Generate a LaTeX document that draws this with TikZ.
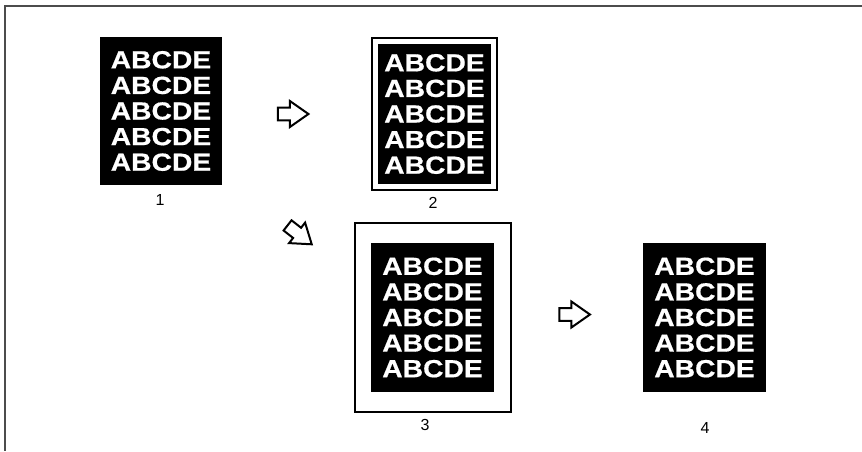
\documentclass[tikz,border=0pt]{standalone}
\usepackage{fontspec}
\setmainfont{Liberation Sans}
\newfontfamily\boxfont{Liberation Sans}[FakeStretch=1.14, FakeBold=0.6]
\usetikzlibrary{shapes.arrows, positioning}

\begin{document}
\begin{tikzpicture}[x=0.75pt, y=-0.75pt,
  page/.style={rectangle, fill=black, draw=none, text=white, align=center, inner sep=0pt,
               font=\boxfont\bfseries\fontsize{18.6}{19.2}\selectfont},
  sheet/.style={rectangle, draw=black, line width=0.8pt, fill=white, inner sep=0pt},
  caption/.style={font=\fontsize{12}{14}\selectfont, inner sep=0pt},
  flow/.style={single arrow, draw=black, line width=1.5pt, fill=white, inner xsep=0pt,
               inner ysep=4.1pt, minimum height=23pt, single arrow head extend=4.9pt,
               single arrow tip angle=70},
  frame/.style={draw=black!70, line width=1.2pt},
]
  \useasboundingbox (0,0) rectangle (862,451);

  % Rahmen
  \draw[frame] (862,6) -- (5,6) -- (5,451);

  % Vorlage 1
  \node[page, minimum width=91.5pt, minimum height=111pt] (doc1) at (161,111)
    {ABCDE\\ABCDE\\ABCDE\\ABCDE\\ABCDE};
  \node[caption] (cap1) at (160,200) {1};

  % Vorlage 2
  \node[sheet, minimum width=93.75pt, minimum height=114pt] (sheet2) at (434.5,114) {};
  \node[page, minimum width=84.75pt, minimum height=105pt] (doc2) at (sheet2.center)
    {ABCDE\\ABCDE\\ABCDE\\ABCDE\\ABCDE};
  \node[caption] (cap2) at (433,203) {2};

  % Vorlage 3
  \node[sheet, minimum width=117pt, minimum height=141.75pt] (sheet3) at (433,317.5) {};
  \node[page, minimum width=92.25pt, minimum height=111.75pt] (doc3) at (432.5,317.5)
    {ABCDE\\ABCDE\\ABCDE\\ABCDE\\ABCDE};
  \node[caption] (cap3) at (425,425) {3};

  % Vorlage 4
  \node[page, minimum width=92.25pt, minimum height=111.75pt] (doc4) at (704.5,317.5)
    {ABCDE\\ABCDE\\ABCDE\\ABCDE\\ABCDE};
  \node[caption] (cap4) at (705,428) {4};

  % Pfeile
  \node[flow] (step12) at (288.5,114) {};
  \node[flow, rotate=-38] (step13) at (296,232) {};
  \node[flow] (step34) at (570,314.5) {};
\end{tikzpicture}
\end{document}
